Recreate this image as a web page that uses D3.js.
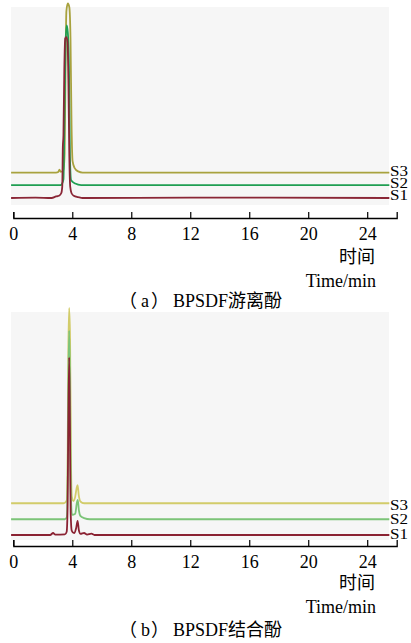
<!DOCTYPE html>
<html>
<head>
<meta charset="utf-8">
<script src="https://cdn.jsdelivr.net/npm/d3@7"></script>
<style>
  body { margin: 0; background: #fff; }
  text { font-family: "Liberation Serif", "Noto Sans CJK SC", serif; fill: #000; }
</style>
</head>
<body>
<svg id="chart" width="411" height="643"></svg>
<script>
// tick labels on the time axis (min)
var timeTicks = [0, 4, 8, 12, 16, 20, 24];
var timeMax = 26;
var seriesNames = ['S1', 'S2', 'S3'];

// (a) free phenol: [time, signal]
var freeS1 = [[-0.15,0],[1.5,0.2],[2.6,0],[2.9,0.8],[3.1,1.2],[3.25,2.5],[3.32,6],[3.36,27],[3.4,33],[3.46,68],[3.52,84],[3.6,84.7],[3.68,82],[3.74,60],[3.8,22],[3.86,6],[3.95,2.5],[4.1,1.2],[4.4,0.5],[4.7,0],[12,0.2],[25.5,0]];
var freeS2 = [[-0.15,0],[3.2,0],[3.3,0.6],[3.4,3],[3.47,35],[3.54,74],[3.62,84],[3.7,80],[3.78,58],[3.84,15],[3.92,2.5],[4.2,0.8],[4.6,0],[25.5,0]];
var freeS3 = [[-0.15,0],[2.9,0],[3.05,0.3],[3.13,1.5],[3.22,0.4],[3.4,1.2],[3.48,10],[3.54,55],[3.6,85],[3.7,89],[3.8,87],[3.88,70],[3.95,25],[4.02,6],[4.15,2.5],[4.4,0.6],[4.7,0],[25.5,0]];
var freeOffsets = [0, 6.8, 13.4];

// (b) bound phenol
var boundS1 = [[-0.15,0],[2.5,0],[2.7,0.9],[2.85,0.2],[3.5,0.3],[3.62,1.5],[3.68,12],[3.73,50],[3.79,80],[3.84,50],[3.89,10],[3.96,2],[4.12,0.8],[4.26,3],[4.36,6.4],[4.45,2],[4.56,0.5],[4.8,0.9],[5.0,0.2],[5.3,0.6],[5.5,0],[25.5,0]];
var boundS2 = [[-0.15,0],[3.5,0],[3.63,1],[3.69,20],[3.74,65],[3.79,85],[3.84,65],[3.9,12],[3.98,2],[4.2,2.5],[4.3,7],[4.37,8.7],[4.45,4],[4.55,1.5],[4.8,0.5],[5.2,0],[25.5,0]];
var boundS3 = [[-0.15,0],[3.4,0],[3.55,0.5],[3.63,1.5],[3.68,15],[3.73,68],[3.79,88],[3.85,74],[3.91,20],[3.97,3],[4.08,1],[4.2,3],[4.3,7],[4.36,8.2],[4.44,3.5],[4.55,0.8],[4.8,0],[25.5,0]];
var boundOffsets = [0, 7.1, 14.3];

var panels = [
  { series: [freeS1, freeS2, freeS3], offsets: freeOffsets,
    colors: ['#8a2636', '#1f9e52', '#a8a23e'],
    top: 8, base: 198, axisY: 218, bg: [11, 7, 389, 205],
    labelY: [199.5, 188, 176], unitY: [263, 287], captionY: 307,
    letter: 'a', name: '游离酚' },
  { series: [boundS1, boundS2, boundS3], offsets: boundOffsets,
    colors: ['#8a2232', '#7cc478', '#d2cc6a'],
    top: 313, base: 535, axisY: 546, bg: [11, 312, 389, 540],
    labelY: [538.5, 524, 510], unitY: [589, 613], captionY: 636,
    letter: 'b', name: '结合酚' }
];

var svg = d3.select('#chart');

var x = d3.scaleLinear()
  .domain([0, timeMax])
  .range([13.3, 396.7]);

panels.forEach(function(p) {
  var g = svg.append('g');

  g.append('rect')
    .attr('x', p.bg[0]).attr('y', p.bg[1])
    .attr('width', p.bg[2] - p.bg[0]).attr('height', p.bg[3] - p.bg[1])
    .attr('fill', '#f6f6f6');

  var y = d3.scaleLinear().domain([0, 100]).range([p.base, p.top]);

  // draw S3 first so S1 ends on top, as in the picture
  [2, 1, 0].forEach(function(i) {
    var line = d3.line()
      .x(function(d) { return x(d[0]); })
      .y(function(d) { return y(d[1] + p.offsets[i]); })
      .curve(d3.curveMonotoneX);
    g.append('path')
      .datum(p.series[i])
      .attr('d', line)
      .attr('fill', 'none')
      .attr('stroke', p.colors[i])
      .attr('stroke-width', 1.8)
      .attr('stroke-linejoin', 'round');
  });

  seriesNames.forEach(function(s, i) {
    g.append('text')
      .attr('x', 390)
      .attr('y', p.labelY[i])
      .attr('font-size', 15)
      .attr('textLength', 18)
      .attr('lengthAdjust', 'spacingAndGlyphs')
      .text(s);
  });

  var axis = d3.axisBottom(x)
    .tickValues(timeTicks)
    .tickSize(-6)
    .tickSizeOuter(-6)
    .tickFormat(d3.format('d'));

  var ax = g.append('g')
    .attr('transform', 'translate(0,' + p.axisY + ')')
    .call(axis);
  ax.select('.domain').attr('stroke', '#000').attr('stroke-width', 1.3);
  ax.selectAll('.tick line').attr('stroke', '#000').attr('stroke-width', 1.2);
  ax.selectAll('.tick text')
    .attr('y', 21.5).attr('dy', 0)
    .attr('font-size', 18)
    .attr('font-family', '"Liberation Serif", serif')
    .attr('fill', '#000');

  g.append('text')
    .attr('x', 375).attr('y', p.unitY[0])
    .attr('text-anchor', 'end')
    .attr('font-size', 18)
    .attr('font-family', '"Noto Sans CJK SC", sans-serif')
    .text('时间');

  g.append('text')
    .attr('x', 376).attr('y', p.unitY[1])
    .attr('text-anchor', 'end')
    .attr('font-size', 18)
    .text('Time/min');

  // caption: full-width brackets placed one by one
  var cap = g.append('text')
    .attr('y', p.captionY)
    .attr('font-size', 18);
  cap.append('tspan').attr('x', 119).attr('font-family', '"Noto Sans CJK SC", sans-serif').text('（');
  cap.append('tspan').attr('x', 141).text(p.letter);
  cap.append('tspan').attr('x', 151).attr('font-family', '"Noto Sans CJK SC", sans-serif').text('）');
  cap.append('tspan').attr('x', 173).text('BPSDF');
  cap.append('tspan').attr('font-family', '"Noto Sans CJK SC", sans-serif').text(p.name);
});
</script>
</body>
</html>
